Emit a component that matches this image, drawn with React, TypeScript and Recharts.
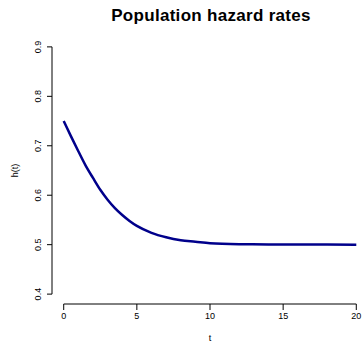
import React from "react";
import { LineChart, Line, XAxis, YAxis, ReferenceLine } from "recharts";

const tValues = [0, 0.5, 1, 1.5, 2, 2.5, 3, 3.5, 4, 4.5, 5, 6, 7, 8, 9, 10, 12, 14, 16, 18, 20];
const hValues = [0.75, 0.719, 0.689, 0.66, 0.635, 0.611, 0.591, 0.574, 0.56, 0.548, 0.538, 0.524, 0.515, 0.509, 0.506, 0.503, 0.501, 0.5005, 0.5002, 0.5001, 0.5];
const xTicks = [0, 5, 10, 15, 20];
const yTicks = [0.4, 0.5, 0.6, 0.7, 0.8, 0.9];
const title = "Population hazard rates";
const xLabel = "t";
const yLabel = "h(t)";

const data = tValues.map((t, i) => ({ t, h: hValues[i] }));

const FONT = "'Liberation Sans', Arial, Helvetica, sans-serif";
const FS = 9;

const XTick = (props: any) => {
  const { x, y, payload } = props;
  return (
    <text x={x} y={y + 5} textAnchor="middle" fontSize={FS} fontFamily={FONT} fill="#000">
      {String(payload.value)}
    </text>
  );
};

const YTick = (props: any) => {
  const { x, y, payload } = props;
  return (
    <text
      x={x}
      y={y}
      textAnchor="middle"
      dominantBaseline="central"
      fontSize={FS}
      fontFamily={FONT}
      fill="#000"
      transform={`rotate(-90, ${x}, ${y})`}
    >
      {String(payload.value)}
    </text>
  );
};

const YLab = (props: any) => {
  const vb = props.viewBox || {};
  const cx = 15;
  const cy = (vb.y || 0) + (vb.height || 0) / 2;
  return (
    <text
      x={cx}
      y={cy}
      textAnchor="middle"
      dominantBaseline="central"
      fontSize={FS}
      fontFamily={FONT}
      fill="#000"
      transform={`rotate(-90, ${cx}, ${cy})`}
    >
      {yLabel}
    </text>
  );
};

const XLab = (props: any) => {
  const vb = props.viewBox || {};
  const cx = (vb.x || 0) + (vb.width || 0) / 2;
  return (
    <text x={cx} y={341} textAnchor="middle" fontSize={FS} fontFamily={FONT} fill="#000">
      {xLabel}
    </text>
  );
};

export default function App() {
  return (
    <div
      style={{
        position: "absolute",
        left: 0,
        top: 0,
        width: 363,
        height: 343,
        overflow: "hidden",
        background: "#fff",
      }}
    >
      <div
        style={{
          position: "absolute",
          left: 0,
          top: 7,
          width: 422,
          textAlign: "center",
          fontFamily: FONT,
          fontWeight: "bold",
          fontSize: 17,
          letterSpacing: "0.3px",
          lineHeight: "17px",
          color: "#000",
          whiteSpace: "nowrap",
        }}
      >
        {title}
      </div>
      <LineChart
        width={369}
        height={343}
        data={data}
        margin={{ top: 37, right: 1, bottom: 0, left: 0 }}
      >
        <XAxis
          dataKey="t"
          type="number"
          domain={[-0.8, 20.8]}
          ticks={xTicks}
          axisLine={false}
          tickLine={{ stroke: "#000", strokeWidth: 1 }}
          tickSize={6}
          tickMargin={4}
          height={39}
          tick={<XTick />}
          label={<XLab />}
        />
        <YAxis
          type="number"
          domain={[0.38, 0.92]}
          ticks={yTicks}
          axisLine={false}
          tickLine={{ stroke: "#000", strokeWidth: 1 }}
          tickSize={5}
          tickMargin={9}
          width={52}
          tick={<YTick />}
          label={<YLab />}
        />
        <ReferenceLine
          segment={[
            { x: 0, y: 0.38 },
            { x: 20, y: 0.38 },
          ]}
          stroke="#000"
          strokeWidth={1}
          ifOverflow="visible"
        />
        <ReferenceLine
          segment={[
            { x: -0.8, y: 0.4 },
            { x: -0.8, y: 0.9 },
          ]}
          stroke="#000"
          strokeWidth={1}
          ifOverflow="visible"
        />
        <Line
          type="monotone"
          dataKey="h"
          stroke="#00008B"
          strokeWidth={2.5}
          dot={false}
          isAnimationActive={false}
        />
      </LineChart>
    </div>
  );
}
